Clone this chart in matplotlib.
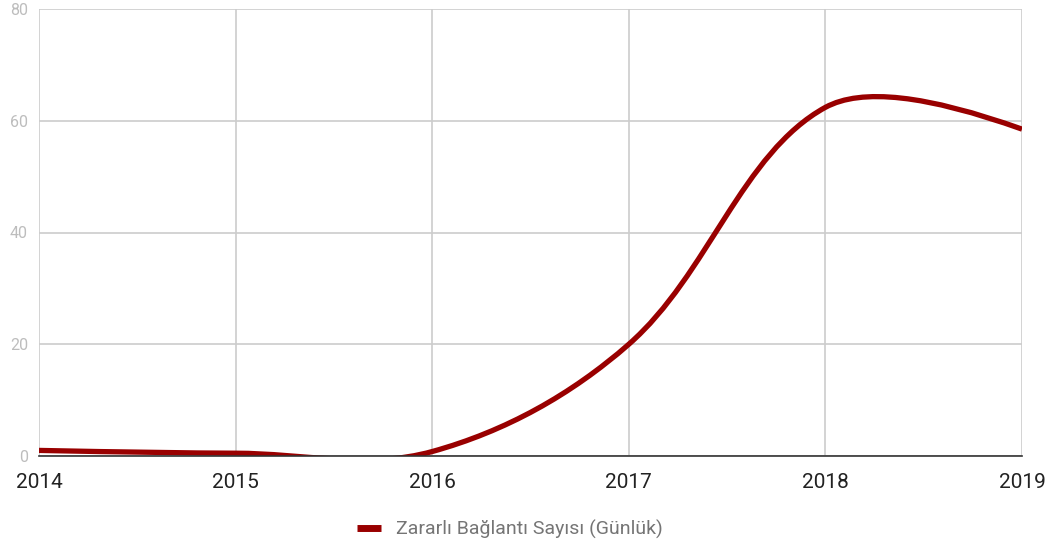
import numpy as np
import matplotlib
matplotlib.use("Agg")
import matplotlib.pyplot as plt
from matplotlib.path import Path
from matplotlib.patches import PathPatch

years = [2014, 2015, 2016, 2017, 2018, 2019]
values = [1.0, 0.5, 0.8, 20.0, 62.4, 58.5]
series_name = "Zararlı Bağlantı Sayısı (Günlük)"
yticks = [0, 20, 40, 60, 80]

plt.rcParams['font.family'] = ['Roboto', 'DejaVu Sans']

W, H = 1050, 550
L, R, B, T = 39, 1022, 456, 9
fig = plt.figure(figsize=(W/100, H/100), dpi=100)
ax = fig.add_axes([L/W, (H-B)/H, (R-L)/W, (B-T)/H])
ax.set_xlim(2014, 2019)
ax.set_ylim(0, 80)

# smooth curve (tension spline with distance-weighted control points, in pixel space)
px = (R - L) / (years[-1] - years[0])
py = (B - T) / 80.0
P = np.column_stack([np.asarray(years, float) * px, np.asarray(values, float) * py])
tension = 0.35
n = len(P)
cin = [None] * n
cout = [None] * n
for i in range(1, n - 1):
    d01 = np.linalg.norm(P[i] - P[i-1])
    d12 = np.linalg.norm(P[i+1] - P[i])
    fa = tension * d01 / (d01 + d12)
    fb = tension * d12 / (d01 + d12)
    cin[i] = P[i] - fa * (P[i+1] - P[i-1])
    cout[i] = P[i] + fb * (P[i+1] - P[i-1])
verts = [P[0]]
codes = [Path.MOVETO]
for i in range(n - 1):
    if i == 0:
        verts += [cin[1], P[1]]
        codes += [Path.CURVE3, Path.CURVE3]
    elif i == n - 2:
        verts += [cout[i], P[i+1]]
        codes += [Path.CURVE3, Path.CURVE3]
    else:
        verts += [cout[i], cin[i+1], P[i+1]]
        codes += [Path.CURVE4] * 3
verts = np.array(verts) / np.array([px, py])
patch = PathPatch(Path(verts, codes), facecolor='none', edgecolor='#990000',
                  lw=3.8, zorder=3, capstyle='butt', joinstyle='round')
ax.add_patch(patch)

ax.set_xticks(years)
ax.set_xticklabels([str(y) for y in years])
ax.set_yticks(yticks)
ax.set_yticklabels([str(v) for v in yticks])
ax.grid(True, color='#cccccc', lw=1.2)
ax.set_axisbelow(True)
for s in ['top', 'right', 'left']:
    ax.spines[s].set_visible(False)
ax.spines['bottom'].set_color('#333333')
ax.spines['bottom'].set_linewidth(1.2)
ax.spines['bottom'].set_zorder(4)
ax.tick_params(axis='x', length=0, pad=12, labelsize=15, labelcolor='#222222')
ax.tick_params(axis='y', length=0, pad=8, labelsize=11.5, labelcolor='#bdbdbd')

fig.legend([plt.Line2D([0], [0], color='#990000', lw=5, solid_capstyle='butt')], [series_name],
           loc='center', bbox_to_anchor=(510/W, 21/H), frameon=False,
           fontsize=14, labelcolor='#757575', handlelength=1.2, handletextpad=0.8)

fig.savefig('out.png', dpi=100)
